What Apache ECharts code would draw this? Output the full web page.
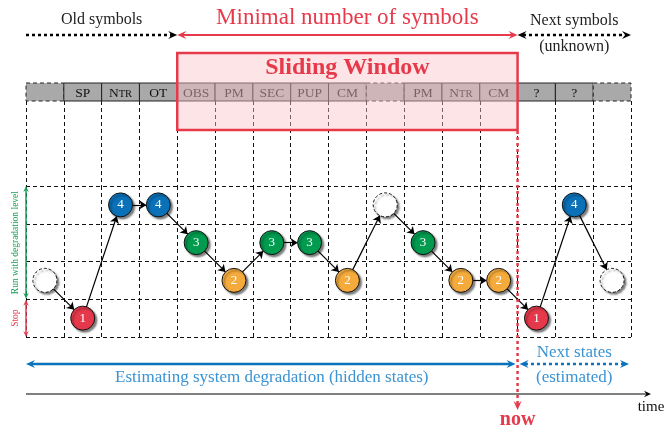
<!DOCTYPE html>
<html>
<head>
<meta charset="utf-8">
<script src="https://cdn.jsdelivr.net/npm/echarts@6/dist/echarts.min.js"></script>
<style>
html, body { margin: 0; padding: 0; background: #fff; }
#chart { width: 664px; height: 430px; }
</style>
</head>
<body>
<div id="chart"></div>
<script>
// observed symbols, one per time step ('' = no symbol)
var symbols = ['', 'SP', 'NTR', 'OT', 'OBS', 'PM', 'SEC', 'PUP', 'CM', '', 'PM', 'NTR', 'CM', '?', '?', ''];
var symbolKnown = [0, 1, 1, 1, 1, 1, 1, 1, 1, 0, 1, 1, 1, 1, 1, 0];
// hidden degradation level at each step
var levels = [2, 1, 4, 4, 3, 2, 3, 3, 2, 4, 3, 2, 2, 1, 4, 2];
var stateShown = [0, 1, 1, 1, 1, 1, 1, 1, 1, 0, 1, 1, 1, 1, 1, 0];
var levelNames = ['1', '2', '3', '4'];
var windowFirst = 4, windowLast = 12;   // sliding window columns
var nowAfter = 12;                      // last observed column

var RED = '#e63a4b', BLUE = '#0b72bc', BLUE_TXT = '#3b93d3', GREEN = '#17a05a';
var levelColors = { 1: '#e5394b', 2: '#f5aa3c', 3: '#009b4f', 4: '#0a71b9' };
var SERIF = '"Liberation Serif", "DejaVu Serif", serif';

var chart = echarts.init(document.getElementById('chart'));

var nodes = [];
var links = [];
for (var i = 0; i < levels.length; i++) {
    var lv = levels[i];
    var shown = stateShown[i];
    nodes.push({
        name: 'n' + i,
        value: [i + 0.5, lv - 0.5],
        itemStyle: shown ? { color: levelColors[lv] } : { color: '#fff', borderType: [3, 2] },
        label: { formatter: shown ? String(lv) : '' }
    });
    if (i > 0) links.push({ source: i - 1, target: i });
}

var gridLine = { show: true, lineStyle: { type: [4, 3], color: '#111', width: 1 } };
function colAxis(g, split) {
    return {
        gridIndex: g, type: 'value', min: 0, max: symbols.length, interval: 1,
        axisLine: { show: false }, axisTick: { show: false }, axisLabel: { show: false },
        splitLine: split ? gridLine : { show: false }
    };
}

var option = {
    animation: false,
    grid: [
        { left: 26, right: 33, top: 186, height: 151 },
        { left: 26, right: 33, top: 101, height: 85 },
        { left: 26, right: 33, top: 83, height: 18 }
    ],
    xAxis: [colAxis(0, true), colAxis(1, true), colAxis(2, false)],
    yAxis: [
        { gridIndex: 0, type: 'value', min: 0, max: levelNames.length, interval: 1,
          axisLine: { show: false }, axisTick: { show: false }, axisLabel: { show: false },
          splitLine: gridLine },
        { gridIndex: 1, type: 'value', min: 0, max: 1, show: false, splitLine: { show: false } },
        { gridIndex: 2, type: 'value', min: 0, max: 1, show: false, splitLine: { show: false } }
    ],
    series: [
        {
            type: 'custom',
            xAxisIndex: 2, yAxisIndex: 2,
            data: symbols.map(function (s, k) { return [k, s]; }),
            renderItem: function (params, api) {
                var k = api.value(0);
                var p0 = api.coord([k, 1]);
                var p1 = api.coord([k + 1, 0]);
                var s = symbols[k];
                var t = s === 'NTR' ? '{b|N}{s|TR}' : s;
                return {
                    type: 'group',
                    children: [
                        { type: 'rect',
                          shape: { x: p0[0], y: p0[1], width: p1[0] - p0[0], height: p1[1] - p0[1] },
                          style: { fill: '#a9a9a9', stroke: '#222', lineWidth: 1, lineDash: symbolKnown[k] ? null : [4, 3] } },
                        { type: 'text',
                          style: { text: t, x: (p0[0] + p1[0]) / 2, y: (p0[1] + p1[1]) / 2 + 1,
                                   align: 'center', verticalAlign: 'middle', fill: '#111',
                                   font: '13.5px ' + SERIF,
                                   rich: { b: { fontSize: 13.5, fontFamily: SERIF, fill: '#111', verticalAlign: 'bottom' },
                                           s: { fontSize: 10.5, fontFamily: SERIF, fill: '#111', verticalAlign: 'bottom', padding: [0, 0, 0, 0] } } } }
                    ]
                };
            }
        },
        {
            type: 'graph',
            coordinateSystem: 'cartesian2d',
            xAxisIndex: 0, yAxisIndex: 0,
            symbol: 'circle',
            symbolSize: 24,
            edgeSymbol: ['none', 'arrow'],
            edgeSymbolSize: [0, 7],
            data: nodes,
            links: links,
            z: 5,
            lineStyle: { color: '#000', width: 1.2, opacity: 1, curveness: 0 },
            label: { show: true, position: 'inside', color: '#fff', fontFamily: SERIF, fontSize: 13 },
            itemStyle: { borderColor: '#111', borderWidth: 1, shadowColor: 'rgba(0,0,0,0.5)',
                         shadowBlur: 2, shadowOffsetX: 2, shadowOffsetY: 2 },
            emphasis: { disabled: true }
        }
    ]
};
chart.setOption(option);

// ---- annotations ----
function colEdge(b) { return chart.convertToPixel({ xAxisIndex: 0 }, b); }

function arrow(x1, y1, x2, y2, color, w, dash, h1, h2, hs) {
    hs = hs || 9;
    var dx = x2 - x1, dy = y2 - y1, len = Math.sqrt(dx * dx + dy * dy);
    var ux = dx / len, uy = dy / len;
    var els = [];
    var a = h1 ? hs * 0.6 : 0, b = h2 ? hs * 0.6 : 0;
    els.push({ type: 'line', z: 100,
        shape: { x1: x1 + ux * a, y1: y1 + uy * a, x2: x2 - ux * b, y2: y2 - uy * b },
        style: { stroke: color, lineWidth: w, lineDash: dash || null } });
    function head(tx, ty, vx, vy) {
        var hw = hs * 0.45;
        return { type: 'polygon', z: 101, shape: { points: [
            [tx, ty],
            [tx - vx * hs - vy * hw, ty - vy * hs + vx * hw],
            [tx - vx * hs * 0.65, ty - vy * hs * 0.65],
            [tx - vx * hs + vy * hw, ty - vy * hs - vx * hw]
        ] }, style: { fill: color } };
    }
    if (h1) els.push(head(x1, y1, -ux, -uy));
    if (h2) els.push(head(x2, y2, ux, uy));
    return els;
}
function label(x, y, s, size, color, weight, extra) {
    var e = { type: 'text', z: 102,
        style: { text: s, x: x, y: y, align: 'center', verticalAlign: 'middle', fill: color,
                 font: (weight || '') + ' ' + size + 'px ' + SERIF } };
    if (extra) for (var k in extra) e[k] = extra[k];
    return e;
}

var xL = colEdge(0), xW0 = colEdge(windowFirst), xW1 = colEdge(windowLast + 1), xR = colEdge(symbols.length);
var xNow = colEdge(nowAfter + 1);
var yTop = chart.convertToPixel({ yAxisIndex: 0 }, levelNames.length);
var yStop = chart.convertToPixel({ yAxisIndex: 0 }, 1);
var yBot = chart.convertToPixel({ yAxisIndex: 0 }, 0);

var g = [];
// sliding window
g.push({ type: 'rect', z: 90, shape: { x: xW0, y: 53, width: xW1 - xW0, height: 77 },
         style: { fill: 'rgba(250,195,200,0.45)', stroke: RED, lineWidth: 2.5 } });
g.push(label((xW0 + xW1) / 2, 68, 'Sliding Window', 24, RED, 'bold'));

// top arrows
g = g.concat(arrow(xL, 35, xW0, 35, '#000', 2.5, [3, 3], false, true));
g = g.concat(arrow(xW0, 35, xW1, 35, RED, 2, null, true, true));
g = g.concat(arrow(xW1, 35, xR, 35, '#000', 2.5, [3, 3], true, true));
g.push(label((xL + xW0) / 2, 20, 'Old symbols', 16, '#222'));
g.push(label((xW0 + xW1) / 2, 18, 'Minimal number of symbols', 23, RED));
g.push(label((xW1 + xR) / 2, 21, 'Next symbols', 16, '#222'));
g.push(label((xW1 + xR) / 2, 47, '(unknown)', 16, '#222'));

// left level arrows
g = g.concat(arrow(xL, yTop, xL, yStop - 0.5, GREEN, 1.5, null, true, true, 6));
g = g.concat(arrow(xL, yStop + 0.5, xL, yBot, RED, 1.5, null, true, true, 6));
g.push(label(15, (yTop + yStop) / 2, 'Run with degradation level', 9.5, GREEN, '', { rotation: Math.PI / 2, originX: 15, originY: (yTop + yStop) / 2 }));
g.push(label(15, (yStop + yBot) / 2, 'Stop', 9.5, RED, '', { rotation: Math.PI / 2, originX: 15, originY: (yStop + yBot) / 2 }));

// bottom arrows
g = g.concat(arrow(xL, 364, xNow - 2, 364, BLUE, 2.5, null, true, true));
g = g.concat(arrow(xNow + 2, 364, xR - 2, 364, BLUE, 2.5, [3, 3], true, true));
g.push(label((xL + xNow) / 2, 378, 'Estimating system degradation (hidden states)', 17, BLUE_TXT));
g.push(label((xNow + xR) / 2, 353, 'Next states', 17, BLUE_TXT));
g.push(label((xNow + xR) / 2, 378, '(estimated)', 17, BLUE_TXT));

// time axis
g = g.concat(arrow(xL, 394, 651, 394, '#000', 1.2, null, false, true, 7));
g.push(label(651, 407, 'time', 15, '#111'));

// now marker
g = g.concat(arrow(xNow, 131, xNow, 410, RED, 2.5, [3, 3], false, true));
g.push(label(xNow, 420, 'now', 20, RED, 'bold'));

chart.setOption({ graphic: { elements: g } });
</script>
</body>
</html>
